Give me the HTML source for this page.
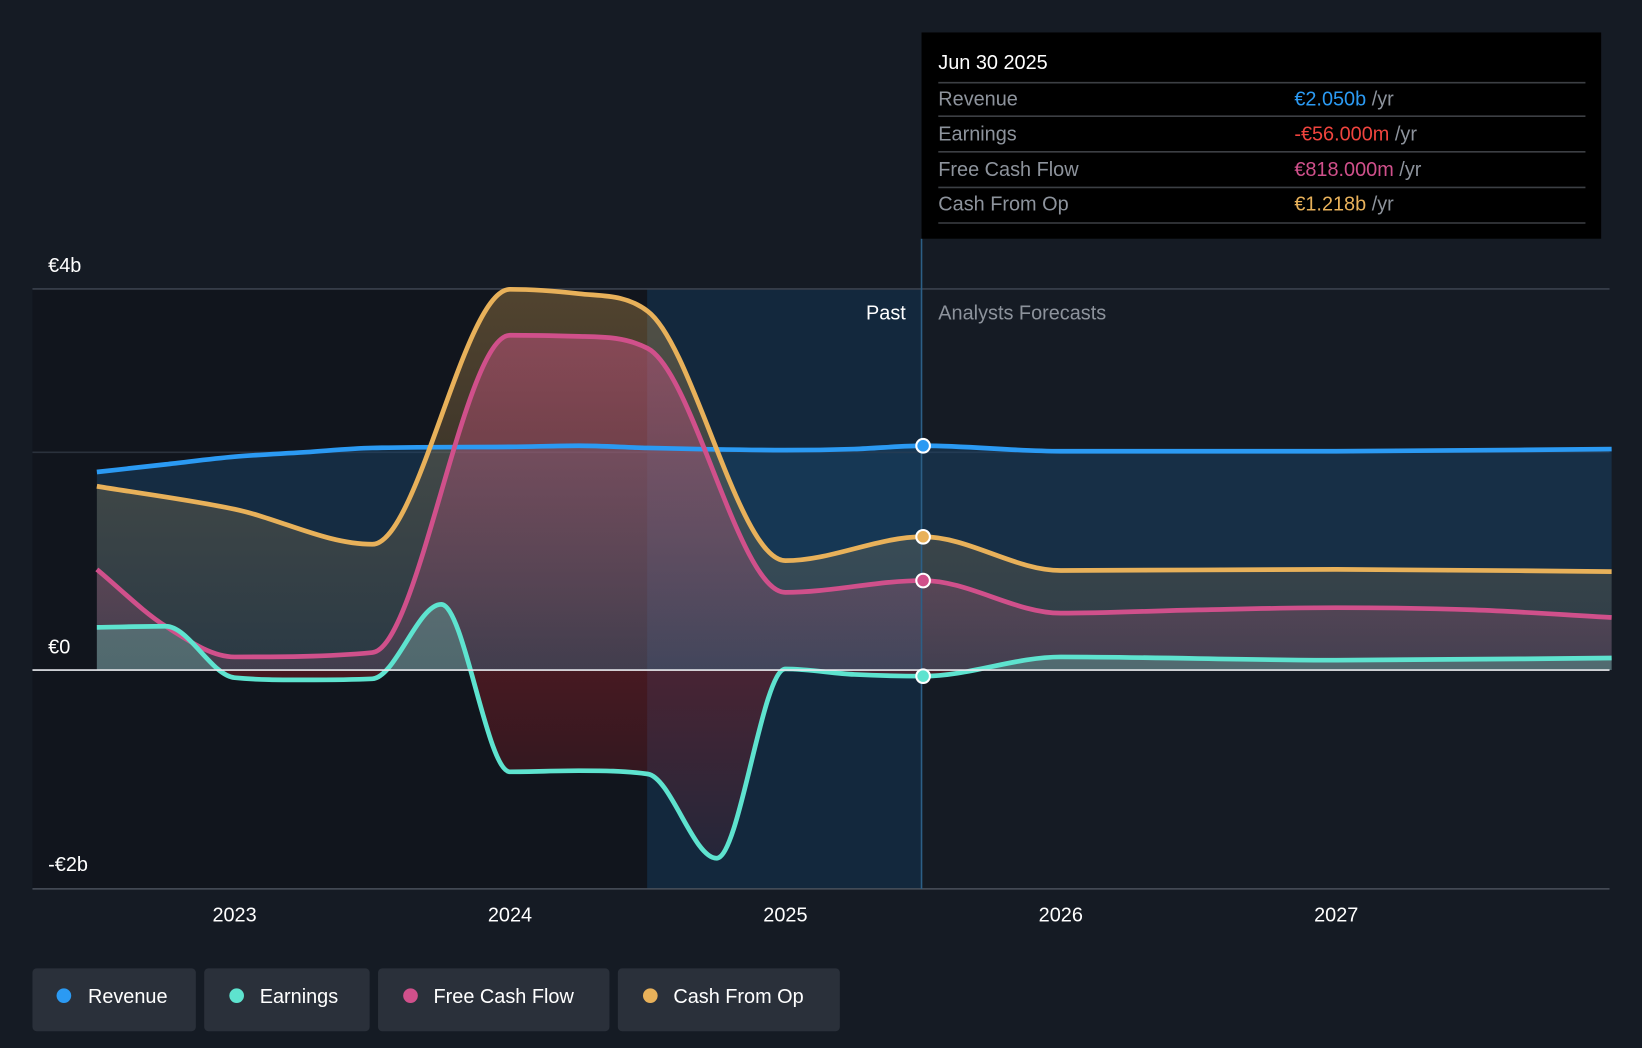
<!DOCTYPE html>
<html><head><meta charset="utf-8"><style>
html,body{margin:0;padding:0;background:#151b24;}
svg{display:block;font-family:"Liberation Sans",sans-serif;}
</style></head><body>
<svg id="chart" width="1642" height="1048" viewBox="0 0 1568 1001" preserveAspectRatio="none" xmlns="http://www.w3.org/2000/svg">
<defs>
<linearGradient id="gFcf" x1="0" y1="0" x2="0" y2="1"><stop offset="0" stop-color="#c2527f" stop-opacity="0.5"/><stop offset="1" stop-color="#c2527f" stop-opacity="0.15"/></linearGradient>
<linearGradient id="gCfo" x1="0" y1="0" x2="0" y2="1"><stop offset="0" stop-color="#e8b15a" stop-opacity="0.3"/><stop offset="1" stop-color="#e8b15a" stop-opacity="0.1"/></linearGradient>
<linearGradient id="gEarnNeg" x1="0" y1="0" x2="0" y2="1"><stop offset="0" stop-color="#8a1f27" stop-opacity="0.55"/><stop offset="1" stop-color="#8a1f27" stop-opacity="0.15"/></linearGradient>
<clipPath id="clipAbove"><rect x="0" y="0" width="1568" height="640"/></clipPath>
<clipPath id="clipBelow"><rect x="0" y="640" width="1568" height="400"/></clipPath>
</defs>
<rect x="0" y="0" width="1568" height="1001" fill="#151b24"/>
<rect x="31" y="276" width="587" height="573" fill="#11151d"/>
<rect x="618" y="276" width="262" height="573" fill="#13304b" opacity="0.65"/>
<line x1="31" y1="276" x2="1537" y2="276" stroke="#3a414d" stroke-width="1.5"/>
<line x1="31" y1="432" x2="1537" y2="432" stroke="#2a313c" stroke-width="1.5"/>
<g id="areas"></g>
<g id="lines"></g>
<line x1="31" y1="640" x2="1537" y2="640" stroke="#e8eaee" stroke-width="1.5"/>
<line x1="31" y1="849" x2="1537" y2="849" stroke="#4a505b" stroke-width="1.5"/>
<line x1="880" y1="228" x2="880" y2="849" stroke="#2c5f86" stroke-width="1.5"/>
<g id="dots"></g>
<text x="46" y="260" fill="#fff" font-size="19">€4b</text>
<text x="46" y="624" fill="#fff" font-size="19">€0</text>
<text x="46" y="832" fill="#fff" font-size="19">-€2b</text>
<text x="865" y="305" fill="#fff" font-size="19" text-anchor="end">Past</text>
<text x="896" y="305" fill="#8d939c" font-size="19">Analysts Forecasts</text>
<g id="xticks"></g>
<g>
<rect x="880" y="31" width="649" height="197" fill="#000"/>
<text x="896" y="66" fill="#fff" font-size="19">Jun 30 2025</text>
<g stroke="#3c3f44" stroke-width="1.5"><line x1="896" y1="79" x2="1514" y2="79"/><line x1="896" y1="111" x2="1514" y2="111"/><line x1="896" y1="145" x2="1514" y2="145"/><line x1="896" y1="179" x2="1514" y2="179"/><line x1="896" y1="213" x2="1514" y2="213"/></g>
<g font-size="19" fill="#8d939c">
<text x="896" y="101">Revenue</text><text x="896" y="134">Earnings</text><text x="896" y="168">Free Cash Flow</text><text x="896" y="201">Cash From Op</text>
</g>
<g font-size="19">
<text x="1236" y="101"><tspan fill="#2b9af3">€2.050b</tspan><tspan fill="#8d939c"> /yr</tspan></text>
<text x="1236" y="134"><tspan fill="#f0443e">-€56.000m</tspan><tspan fill="#8d939c"> /yr</tspan></text>
<text x="1236" y="168"><tspan fill="#d0508b">€818.000m</tspan><tspan fill="#8d939c"> /yr</tspan></text>
<text x="1236" y="201"><tspan fill="#e8b15a">€1.218b</tspan><tspan fill="#8d939c"> /yr</tspan></text>
</g>
</g>
<g font-size="19" fill="#fff">
<g><rect x="31" y="925" width="156" height="60" rx="4" fill="#2a303a"/><circle cx="61" cy="951" r="7" fill="#2b9af3"/><text x="84" y="958">Revenue</text></g>
<g><rect x="195" y="925" width="158" height="60" rx="4" fill="#2a303a"/><circle cx="226" cy="951" r="7" fill="#5ee3cf"/><text x="248" y="958">Earnings</text></g>
<g><rect x="361" y="925" width="221" height="60" rx="4" fill="#2a303a"/><circle cx="392" cy="951" r="7" fill="#d0508b"/><text x="414" y="958">Free Cash Flow</text></g>
<g><rect x="590" y="925" width="212" height="60" rx="4" fill="#2a303a"/><circle cx="621" cy="951" r="7" fill="#e8b15a"/><text x="643" y="958">Cash From Op</text></g>
</g>
</svg>
<script>
const revT=[2022.5,2022.75,2023,2023.25,2023.5,2024,2024.25,2024.5,2025,2025.25,2025.5,2026,2027,2028];
const revV=[1.81,1.88,1.95,1.99,2.03,2.04,2.05,2.03,2.01,2.02,2.05,2.0,2.0,2.02];
const earnT=[2022.5,2022.75,2023,2023.25,2023.5,2023.75,2024,2024.25,2024.5,2024.75,2025,2025.25,2025.5,2026,2027,2028];
const earnV=[0.39,0.40,-0.07,-0.09,-0.08,0.60,-0.93,-0.92,-0.95,-1.72,0.01,-0.04,-0.056,0.12,0.09,0.11];
const fcfT=[2022.5,2022.75,2023,2023.5,2024,2024.25,2024.5,2025,2025.5,2026,2026.5,2027,2027.5,2028];
const fcfV=[0.92,0.40,0.12,0.16,3.06,3.05,2.94,0.71,0.818,0.52,0.55,0.57,0.55,0.48];
const cfoT=[2022.5,2023,2023.5,2024,2024.25,2024.5,2025,2025.5,2026,2027,2028];
const cfoV=[1.68,1.47,1.15,3.48,3.44,3.28,1.0,1.218,0.91,0.92,0.90];
const xTicks=[2023,2024,2025,2026,2027];
const nowT=2025.5;
const X=t=>224+(t-2023)*263;
const Y=v=>640-v*104.5;
const NS="http://www.w3.org/2000/svg";
function mono(ts,vs){
  const xs=ts.map(X),ys=vs.map(Y),n=xs.length,d=[],m=[];
  for(let i=0;i<n-1;i++)d.push((ys[i+1]-ys[i])/(xs[i+1]-xs[i]));
  for(let i=0;i<n;i++){
    if(i==0)m.push(d[0]);else if(i==n-1)m.push(d[n-2]);
    else m.push(d[i-1]*d[i]<=0?0:(d[i-1]+d[i])/2);
  }
  for(let i=0;i<n-1;i++){if(d[i]==0){m[i]=0;m[i+1]=0;continue;}const a=m[i]/d[i],b=m[i+1]/d[i],s=a*a+b*b;if(s>9){const t=3/Math.sqrt(s);m[i]=t*a*d[i];m[i+1]=t*b*d[i];}}
  let p=`M${xs[0]},${ys[0]}`;
  for(let i=0;i<n-1;i++){const h=(xs[i+1]-xs[i])/3;p+=`C${xs[i]+h},${ys[i]+m[i]*h} ${xs[i+1]-h},${ys[i+1]-m[i+1]*h} ${xs[i+1]},${ys[i+1]}`;}
  return p;
}
const areas=document.getElementById('areas'),lines=document.getElementById('lines'),dots=document.getElementById('dots');
const series=[
 {n:'revenue',t:revT,v:revV,c:'#2b9af3',f:'#1a4a72',o:0.45},
 {n:'cash-from-op',t:cfoT,v:cfoV,c:'#e8b15a',f:'url(#gCfo)',o:1},
 {n:'free-cash-flow',t:fcfT,v:fcfV,c:'#d0508b',f:'url(#gFcf)',o:1},
 {n:'earnings',t:earnT,v:earnV,c:'#5ee3cf',f:'#6ab9ab',o:0.35,neg:'url(#gEarnNeg)'}
];
series.forEach(s=>{
  const p=mono(s.t,s.v);
  const ad=p+`L${X(s.t[s.t.length-1])},${Y(0)}L${X(s.t[0])},${Y(0)}Z`;
  const a=document.createElementNS(NS,'path');
  a.setAttribute('d',ad);
  a.setAttribute('fill',s.f);a.setAttribute('opacity',s.o);
  if(s.neg)a.setAttribute('clip-path','url(#clipAbove)');
  
  
  areas.appendChild(a);
  if(s.neg){
    const b=document.createElementNS(NS,'path');
    b.setAttribute('d',ad);b.setAttribute('fill',s.neg);b.setAttribute('clip-path','url(#clipBelow)');
    
    
    areas.appendChild(b);
  }
  const l=document.createElementNS(NS,'path');
  l.setAttribute('d',p);l.setAttribute('fill','none');l.setAttribute('stroke',s.c);l.setAttribute('stroke-width','4.5');l.setAttribute('stroke-linejoin','round');
  
  
  lines.appendChild(l);
  const i=s.t.indexOf(nowT);
  const c=document.createElementNS(NS,'circle');
  c.setAttribute('cx',X(nowT));c.setAttribute('cy',Y(s.v[i]));c.setAttribute('r',6.5);c.setAttribute('fill',s.c);c.setAttribute('stroke','#fff');c.setAttribute('stroke-width','2');
  
  
  dots.appendChild(c);
});
const xt=document.getElementById('xticks');
xTicks.forEach(t=>{
  const e=document.createElementNS(NS,'text');
  e.setAttribute('x',X(t));e.setAttribute('y',880);e.setAttribute('fill','#fff');e.setAttribute('font-size','19');e.setAttribute('text-anchor','middle');
  e.textContent=t;
  
  
  xt.appendChild(e);
});
</script>
</body></html>
